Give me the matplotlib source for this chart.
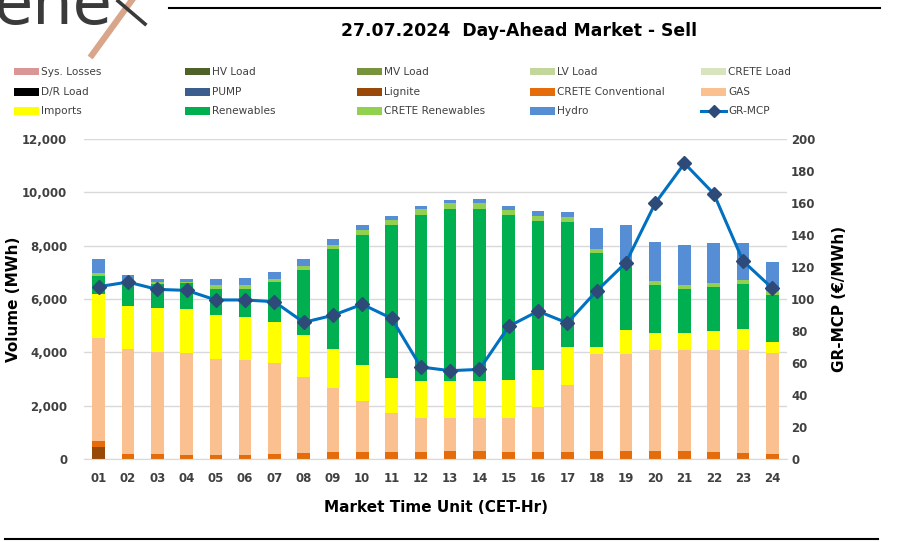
import numpy as np
import matplotlib
matplotlib.use("Agg")
import matplotlib.pyplot as plt
from matplotlib.patches import Rectangle
from matplotlib.lines import Line2D

plt.rcParams['font.family'] = ['DejaVu Sans']

hours = ["%02d" % h for h in range(1, 25)]

# stacked sell volumes (MWh), bottom to top
lignite = [460] + [0] * 23
crete_conv = [215, 176, 170, 137, 137, 137, 176, 237, 275, 275, 275, 275,
              300, 300, 275, 275, 275, 300, 300, 300, 300, 275, 237, 187]
gas = [3875, 3937, 3855, 3838, 3600, 3563, 3411, 2825, 2387, 1887, 1437, 1262,
       1225, 1225, 1262, 1662, 2500, 3637, 3637, 3775, 3787, 3812, 3850, 3800]
imports = [1626, 1624, 1650, 1650, 1663, 1612, 1550, 1575, 1463, 1350, 1338, 1388,
           1400, 1412, 1425, 1400, 1437, 250, 888, 650, 625, 713, 800, 413]
renewables = [698, 788, 887, 962, 962, 1075, 1488, 2450, 3737, 4900, 5712, 6225,
              6450, 6438, 6175, 5588, 4688, 3550, 2387, 1787, 1675, 1650, 1675, 1750]
crete_ren = [112, 100, 88, 63, 150, 150, 125, 150, 175, 188, 200, 212,
             212, 212, 200, 200, 187, 150, 125, 150, 138, 150, 163, 137]
hydro = [502, 280, 100, 100, 238, 263, 250, 263, 225, 175, 163, 138,
         113, 150, 163, 162, 175, 775, 1438, 1488, 1500, 1487, 1375, 1100]

# GR-MCP (EUR/MWh)
mcp = [107.7, 110.6, 106.0, 105.4, 99.4, 99.4, 98.3, 85.4, 89.8, 96.7, 87.9, 57.5,
       55.2, 56.0, 82.9, 92.4, 85.0, 105.0, 122.7, 159.8, 184.8, 165.8, 123.7, 106.7]

legend_names = ["Sys. Losses", "HV Load", "MV Load", "LV Load", "CRETE Load",
                "D/R Load", "PUMP", "Lignite", "CRETE Conventional", "GAS",
                "Imports", "Renewables", "CRETE Renewables", "Hydro", "GR-MCP"]
legend_colors = ["#D99694", "#4F6228", "#77933C", "#C3D69B", "#D7E4BD",
                 "#000000", "#3B5E8F", "#984807", "#E46C0A", "#FAC090",
                 "#FFFF00", "#00B050", "#92D050", "#558ED5", "#0070C0"]

stack = [("Lignite", lignite), ("CRETE Conventional", crete_conv), ("GAS", gas),
         ("Imports", imports), ("Renewables", renewables),
         ("CRETE Renewables", crete_ren), ("Hydro", hydro)]
color_of = dict(zip(legend_names, legend_colors))

W, H = 911, 542
fig = plt.figure(figsize=(W / 100, H / 100), dpi=100)
ax = fig.add_axes([84 / W, 1 - 459 / H, (787 - 84) / W, 320 / H])
ax2 = ax.twinx()

x = np.arange(1, 25)
bottom = np.zeros(24)
for name, vals in stack:
    vals = np.array(vals, dtype=float)
    ax.bar(x, vals, width=0.43, bottom=bottom, color=color_of[name], zorder=2)
    bottom += vals

ax2.plot(x, mcp, color="#0070C0", lw=2.2, marker="D", markersize=7,
         markerfacecolor="#2E4A78", markeredgecolor="#2E4A78", zorder=3)

ax.set_xlim(0.5, 24.5)
ax.set_ylim(0, 12000)
ax2.set_ylim(0, 200)
ax.set_yticks(np.arange(0, 12001, 2000))
ax.set_yticklabels([f"{v:,}" for v in range(0, 12001, 2000)])
ax2.set_yticks(np.arange(0, 201, 20))
ax.set_xticks(x)
ax.set_xticklabels(hours)
ax.grid(axis="y", color="#D9D9D9", lw=1, zorder=0)
ax.set_axisbelow(True)
for a in (ax, ax2):
    for s in a.spines.values():
        s.set_visible(False)
    a.tick_params(length=0, labelsize=8.5, colors="#404040")
    for lbl in a.get_xticklabels() + a.get_yticklabels():
        lbl.set_fontweight("bold")
ax.spines["bottom"].set_visible(True)
ax.spines["bottom"].set_color("#D9D9D9")
ax.tick_params(axis="y", pad=12)
ax.tick_params(axis="x", pad=9)
ax2.tick_params(axis="y", pad=3)

ax.set_ylabel("Volume (MWh)", fontsize=11, fontweight="bold")
ax.yaxis.set_label_coords(-0.089, 0.5)
ax2.set_ylabel("GR-MCP (€/MWh)", fontsize=11, fontweight="bold")
ax2.yaxis.set_label_coords(1.064, 0.5)
ax.set_xlabel("Market Time Unit (CET-Hr)", fontsize=11, fontweight="bold", labelpad=11)

fig.text(519 / W, 1 - 31 / H, "27.07.2024  Day-Ahead Market - Sell",
         ha="center", va="center", fontsize=12.4, fontweight="bold")

# logo and rules
fig.text(-0.007, 1 - 24 / H, "ene", fontsize=46, color="#3A3A3A", va="baseline")
fig.add_artist(Line2D([132 / W, 92 / W], [1.0, 1 - 55 / H], color="#D9A68C", lw=4.5))
fig.add_artist(Line2D([118 / W, 145 / W], [1 - 1 / H, 1 - 24 / H], color="#3A3A3A", lw=2.6))
fig.add_artist(Line2D([169 / W, 880 / W], [1 - 8 / H, 1 - 8 / H], color="black", lw=1.5))
fig.add_artist(Line2D([5 / W, 878 / W], [1 - 539 / H, 1 - 539 / H], color="black", lw=1.5))

# legend: 3 rows x 5 columns, filled row-wise
col_x = [14, 185, 357, 530, 701]
row_y = [72, 92, 111]
for i, (n, c) in enumerate(zip(legend_names, legend_colors)):
    px, py = col_x[i % 5], row_y[i // 5]
    if n == "GR-MCP":
        fig.add_artist(Line2D([px / W, (px + 25) / W], [1 - py / H] * 2, color=c, lw=2.2))
        fig.add_artist(Line2D([(px + 12.5) / W], [1 - py / H], marker="D", markersize=6,
                              color="#2E4A78", lw=0))
    else:
        fig.add_artist(Rectangle((px / W, 1 - (py + 3.5) / H), 25 / W, 7 / H,
                                 facecolor=c, edgecolor="none", transform=fig.transFigure))
    fig.text((px + 27) / W, 1 - py / H, n, fontsize=7.6, color="#404040", va="center")

fig.savefig("out.png", dpi=100)
